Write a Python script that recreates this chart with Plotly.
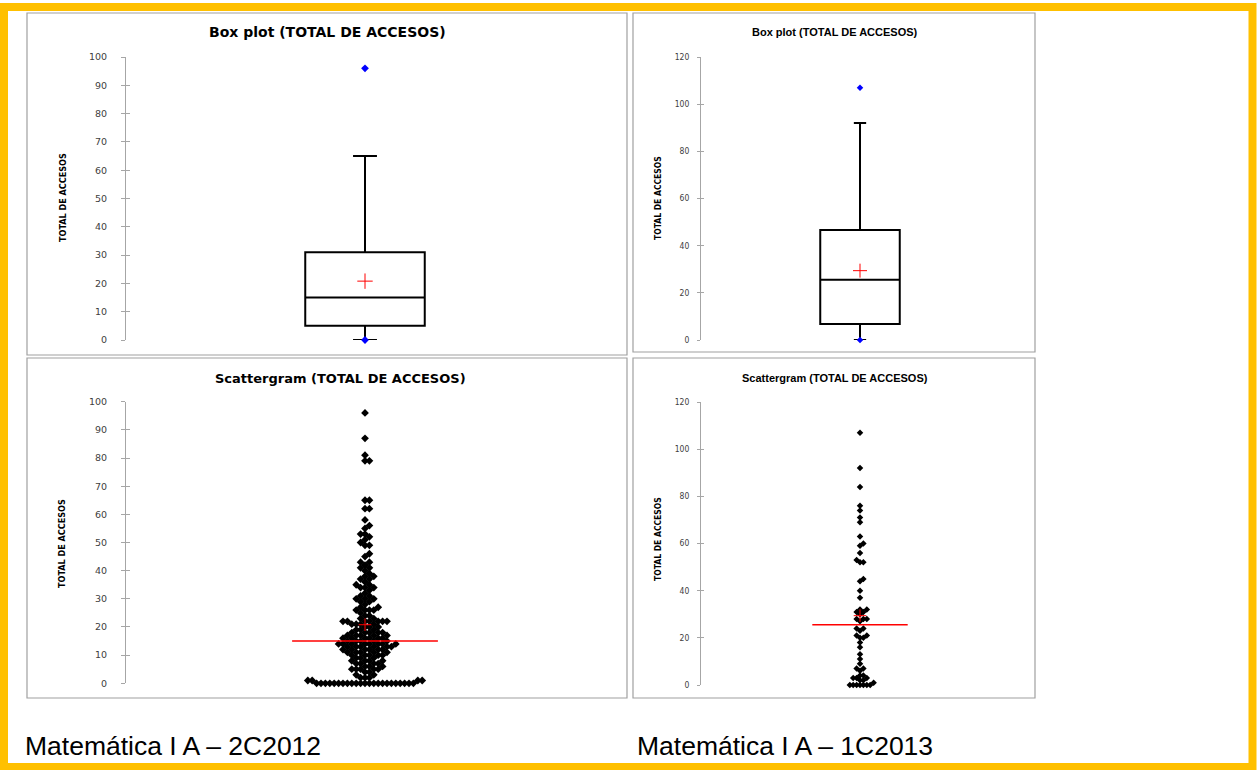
import plotly.graph_objects as go

W, H = 1257, 770

# ---------------- data ----------------
# Matemática I A – 2C2012 : TOTAL DE ACCESOS (distinct values and number of students)
acc_2c2012_values = [0, 1, 2, 3, 4, 5, 6, 7, 8, 9, 10, 11, 12, 13, 14, 15, 16, 17, 18, 19,
                     20, 21, 22, 23, 24, 25, 26, 27, 28, 29, 30, 31, 32, 33, 34, 35, 36, 37,
                     38, 39, 40, 41, 42, 43, 45, 46, 49, 50, 51, 52, 53, 55, 56, 58, 62, 65,
                     79, 81, 87, 96]
acc_2c2012_counts = [23, 4, 3, 2, 2, 5, 3, 4, 4, 3, 5, 5, 6, 6, 8, 5, 6, 5, 5, 3,
                     3, 4, 7, 2, 2, 1, 4, 2, 1, 2, 3, 2, 1, 1, 3, 2, 1, 2,
                     2, 1, 1, 2, 1, 2, 1, 1, 2, 1, 1, 1, 2, 1, 1, 1, 2, 2,
                     2, 1, 1, 1]

# Matemática I A – 1C2013 : TOTAL DE ACCESOS
acc_1c2013_values = [0, 1, 2, 3, 4, 6, 7, 9, 11, 13, 16, 18, 20, 21, 23, 24, 27, 28, 30, 31,
                     32, 37, 40, 44, 45, 52, 53, 56, 59, 60, 63, 69, 71, 74, 76, 84, 92, 107]
acc_1c2013_counts = [7, 1, 2, 3, 2, 1, 2, 1, 1, 1, 1, 1, 2, 2, 1, 2, 1, 3, 1, 2,
                     2, 1, 1, 1, 1, 2, 1, 1, 1, 1, 1, 1, 1, 1, 1, 1, 1, 1]

# box-plot statistics: min, q1, median, q3, upper whisker, max, mean
stat_names = ["min", "q1", "median", "q3", "upper_whisker", "max", "mean"]
stats_2c2012 = [0, 5, 15, 31, 65, 96, 20.8]
stats_1c2013 = [0, 6.8, 25.5, 46.6, 92, 107, 29.4]

title_box = "Box plot (TOTAL DE ACCESOS)"
title_scatter = "Scattergram (TOTAL DE ACCESOS)"
y_title = "TOTAL DE ACCESOS"
captions = ["Matemática I A – 2C2012", "Matemática I A – 1C2013"]


# ---------------- helpers ----------------
def px(x):
    return x / W


def py(y):
    return 1 - y / H


def expand(values, counts):
    out = []
    for v, c in zip(values, counts):
        out += [v] * c
    return out


def swarm(vals, ypx_per_unit, diam, xpx_per_unit):
    """simple beeswarm layout: offsets (data units) so markers do not overlap"""
    step = diam / 2.0
    cands = [0.0]
    for i in range(1, 400):
        cands += [i * step, -i * step]
    placed = []
    xs = []
    ys = sorted(vals)
    for v in ys:
        y = v * ypx_per_unit
        near = [(a, b) for a, b in placed if abs(b - y) < diam]
        chosen = 0.0
        for c in cands:
            if all((c - a) ** 2 + (y - b) ** 2 >= diam ** 2 - 1e-6 for a, b in near):
                chosen = c
                break
        placed.append((chosen, y))
        xs.append(chosen / xpx_per_unit)
    return xs, ys


d1 = dict(zip(stat_names, stats_2c2012))
d2 = dict(zip(stat_names, stats_1c2013))

# pixel geometry of the four plot areas
L_X = (126, 604)
R_X = (701, 1019)
TOP_Y = (340, 57)
BL_Y = (683.3, 401.7)
BR_Y = (685, 402)

fig = go.Figure()

LEFT_FONT = "DejaVu Sans"
COND_FONT = "DejaVu Sans Condensed, DejaVu Sans, sans-serif"
ARIAL = "Liberation Sans, Arial, sans-serif"


def add_box(st, xa, ya, whiskerw, cross_size, dot_size):
    fig.add_trace(go.Box(
        x=[0], q1=[st["q1"]], median=[st["median"]], q3=[st["q3"]],
        lowerfence=[st["min"]], upperfence=[st["upper_whisker"]],
        width=0.5, whiskerwidth=whiskerw, boxpoints=False,
        fillcolor="rgba(255,255,255,0)", line=dict(color="black", width=2),
        xaxis=xa, yaxis=ya, hoverinfo="skip", showlegend=False))
    fig.add_trace(go.Scatter(
        x=[0, 0], y=[st["min"], st["max"]], mode="markers",
        marker=dict(symbol="diamond", size=dot_size, color="#0000FF"),
        cliponaxis=False, xaxis=xa, yaxis=ya, showlegend=False, hoverinfo="skip"))
    fig.add_trace(go.Scatter(
        x=[0], y=[st["mean"]], mode="markers",
        marker=dict(symbol="cross-thin", size=cross_size, line=dict(color="#FF0000", width=1)),
        cliponaxis=False, xaxis=xa, yaxis=ya, showlegend=False, hoverinfo="skip"))


def add_scatter(vals, st, xa, ya, xr, yr, rng, diam, msize, half):
    ypx = (yr[0] - yr[1]) / rng
    xpx = (xr[1] - xr[0]) / 2.0
    xs, ys = swarm(vals, ypx, diam, xpx)
    fig.add_trace(go.Scatter(
        x=xs, y=ys, mode="markers",
        marker=dict(symbol="diamond", size=msize, color="black"),
        cliponaxis=False, xaxis=xa, yaxis=ya, showlegend=False, hoverinfo="skip"))
    fig.add_trace(go.Scatter(
        x=[-half, half], y=[st["median"], st["median"]], mode="lines",
        line=dict(color="#FF0000", width=1.5),
        cliponaxis=False, xaxis=xa, yaxis=ya, showlegend=False, hoverinfo="skip"))
    fig.add_trace(go.Scatter(
        x=[0], y=[st["mean"]], mode="markers",
        marker=dict(symbol="cross-thin", size=9, line=dict(color="#FF0000", width=1)),
        cliponaxis=False, xaxis=xa, yaxis=ya, showlegend=False, hoverinfo="skip"))


add_box(d1, "x", "y", 0.2, 11, 6)
add_box(d2, "x2", "y2", 0.155, 10, 5)
add_scatter(expand(acc_2c2012_values, acc_2c2012_counts), d1, "x3", "y3", L_X, BL_Y, 100, 4.4, 6, 0.305)
add_scatter(expand(acc_1c2013_values, acc_1c2013_counts), d2, "x4", "y4", R_X, BR_Y, 120, 3.4, 5, 0.30)

# invisible traces so the overlay (inside-tick) axes are drawn
for i, xa in zip(range(5, 9), ["x", "x2", "x3", "x4"]):
    fig.add_trace(go.Scatter(x=[None], y=[None], xaxis=xa, yaxis="y" + str(i),
                             showlegend=False, hoverinfo="skip"))


def xax(dom):
    return dict(domain=[px(dom[0]), px(dom[1])], range=[-1, 1], visible=False,
                fixedrange=True, automargin=False)


def yax(dom, rng, dtick, fam, size, standoff, ticklen):
    return dict(domain=[py(dom[0]), py(dom[1])], range=[0, rng], tick0=0, dtick=dtick,
                showgrid=False, zeroline=False, showline=True, linecolor="#A6A6A6", linewidth=1,
                ticks="outside", ticklen=ticklen, tickwidth=1, tickcolor="#A6A6A6",
                tickfont=dict(family=fam, size=size, color="#404040"),
                ticklabelstandoff=standoff, fixedrange=True, automargin=False)


def yin(over, anchor, rng, dtick, ticklen):
    return dict(overlaying=over, anchor=anchor, side="left", range=[0, rng], tick0=0, dtick=dtick,
                showgrid=False, zeroline=False, showline=False, ticks="inside", ticklen=ticklen,
                tickwidth=1, tickcolor="#A6A6A6", showticklabels=False, fixedrange=True,
                automargin=False)


layout = dict(
    width=W, height=H, autosize=False,
    margin=dict(l=0, r=0, t=0, b=0, pad=0, autoexpand=False),
    paper_bgcolor="white", plot_bgcolor="rgba(0,0,0,0)",
    showlegend=False,
    xaxis=xax(L_X), xaxis2=xax(R_X), xaxis3=xax(L_X), xaxis4=xax(R_X),
    yaxis=dict(yax(TOP_Y, 100, 10, LEFT_FONT, 9.5, 12, 4), anchor="x"),
    yaxis2=dict(yax(TOP_Y, 120, 20, COND_FONT, 8.5, 6, 3), anchor="x2"),
    yaxis3=dict(yax(BL_Y, 100, 10, LEFT_FONT, 9.5, 12, 4), anchor="x3"),
    yaxis4=dict(yax(BR_Y, 120, 20, COND_FONT, 8.5, 6, 3), anchor="x4"),
    yaxis5=yin("y", "x", 100, 10, 4),
    yaxis6=yin("y2", "x2", 120, 20, 3),
    yaxis7=yin("y3", "x3", 100, 10, 4),
    yaxis8=yin("y4", "x4", 120, 20, 3),
)
fig.update_layout(**layout)

shapes = []
# panel frames
for (x0, y0, x1, y1) in [(27, 13, 627, 355), (633, 13, 1035, 352), (27, 358, 627, 698), (633, 358, 1035, 698)]:
    shapes.append(dict(type="rect", xref="paper", yref="paper", x0=px(x0), x1=px(x1), y0=py(y0), y1=py(y1),
                       line=dict(color="#A0A0A0", width=1.2), fillcolor="rgba(0,0,0,0)", layer="below"))
# yellow outer frame
shapes.append(dict(type="rect", xref="paper", yref="paper", x0=px(4), x1=px(1252.5), y0=py(7), y1=py(767),
                   line=dict(color="#FFC000", width=8), fillcolor="rgba(0,0,0,0)"))
fig.update_layout(shapes=shapes)

ann = []


def text(x, y, t, fam, size, color="black", bold=False, angle=0, xanchor="center"):
    ann.append(dict(x=px(x), y=py(y), xref="paper", yref="paper", text=("<b>%s</b>" % t) if bold else t,
                    showarrow=False, font=dict(family=fam, size=size, color=color), textangle=angle,
                    xanchor=xanchor, yanchor="middle"))


text(327, 32, title_box, LEFT_FONT, 14, bold=True)
text(835, 32, title_box, ARIAL, 11, bold=True)
text(340, 378, title_scatter, LEFT_FONT, 13, bold=True)
text(835, 378, title_scatter, ARIAL, 11, bold=True)
text(63, 198, y_title, COND_FONT, 9, bold=True, angle=-90)
text(62, 543, y_title, COND_FONT, 9, bold=True, angle=-90)
text(658, 198, y_title, COND_FONT, 8.5, bold=True, angle=-90)
text(658, 539, y_title, COND_FONT, 8.5, bold=True, angle=-90)
text(23, 746, captions[0], ARIAL, 26.5, xanchor="left")
text(635, 746, captions[1], ARIAL, 26.5, xanchor="left")
fig.update_layout(annotations=ann)

fig.write_html("out.html", config={"displayModeBar": False, "staticPlot": True},
               post_script="document.body.style.margin='0';document.body.style.overflow='hidden';")
